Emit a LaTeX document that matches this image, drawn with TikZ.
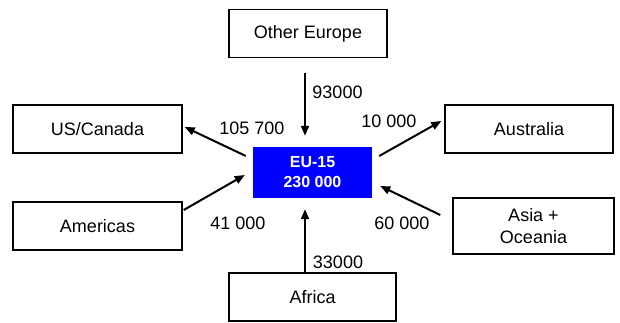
\documentclass[tikz,border=0pt]{standalone}
\usepackage{fontspec}
\setmainfont{Liberation Sans}
\usetikzlibrary{arrows.meta}
\begin{document}
\begin{tikzpicture}[x=1pt,y=-1pt,
  box/.style={draw=black,line width=1.4pt,fill=white,inner sep=0pt,align=center,
    font=\fontsize{18}{22}\selectfont},
  eubox/.style={fill={rgb,255:red,0;green,0;blue,255},inner sep=0pt,align=center,text=white,
    font=\fontsize{16}{20}\selectfont\bfseries},
  lbl/.style={inner sep=0pt,font=\fontsize{18}{22}\selectfont},
  arr/.style={line width=2pt,-{Triangle[length=10pt,width=8pt]}}]
\useasboundingbox (0,0) rectangle (620,322);
\node[box,minimum width=158pt,minimum height=48pt] (oe) at (308,33.5) {Other Europe};
\node[box,minimum width=169pt,minimum height=48pt] (us) at (97.5,129) {US/Canada};
\node[box,minimum width=169pt,minimum height=48pt] (am) at (97.5,226) {Americas};
\node[box,minimum width=168pt,minimum height=48pt] (au) at (529,129) {Australia};
\node[box,minimum width=161pt,minimum height=56pt] (as) at (533.5,226) {Asia +\\Oceania};
\node[box,minimum width=167pt,minimum height=48pt] (af) at (312.5,297) {Africa};
\node[eubox,minimum width=119pt,minimum height=51pt] (eu) at (312.5,172.5) {EU-15\\230 000};

\draw[arr] ([shift={(-3,15)}]oe.south) -- ([shift={(-7.5,-11)}]eu.north);
\draw[arr] ([shift={(-7,-16.5)}]eu.west) -- ([shift={(2,-2)}]us.east);
\draw[arr] ([shift={(1,-16)}]am.east) -- ([shift={(-8,2.5)}]eu.west);
\draw[arr] ([shift={(7,-16.5)}]eu.east) -- ([shift={(-3,-8)}]au.west);
\draw[arr] ([shift={(-12,-11)}]as.west) -- ([shift={(8,13.5)}]eu.east);
\draw[arr] ([shift={(-7.5,0)}]af.north) -- ([shift={(-7.5,11)}]eu.south);

\node[lbl] (l1) at (337.5,92) {93000};
\node[lbl] (l2) at (252,128) {105 700};
\node[lbl] (l3) at (389,121) {10 000};
\node[lbl] (l4) at (238,223) {41 000};
\node[lbl] (l5) at (402,223) {60 000};
\node[lbl] (l6) at (338,262) {33000};
\end{tikzpicture}
\end{document}
